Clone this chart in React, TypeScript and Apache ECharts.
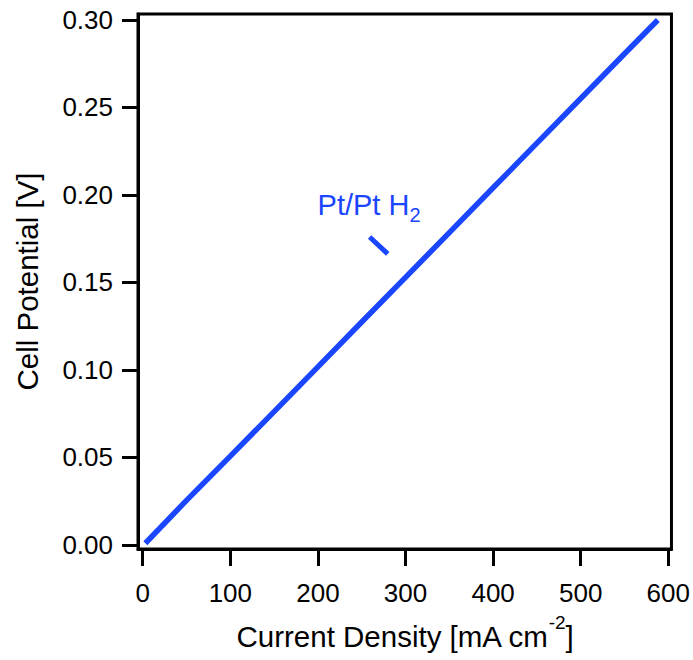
import React, { useEffect, useRef } from "react";
import * as echarts from "echarts";

const currentDensity = [3, 50, 100, 150, 200, 250, 300, 350, 400, 450, 500, 550, 588];
const cellPotential = [0.001, 0.0255, 0.0508, 0.0762, 0.1018, 0.1274, 0.1529, 0.1785, 0.2041, 0.2296, 0.2551, 0.2807, 0.3];
const xTicks = [0, 100, 200, 300, 400, 500, 600];
const yTicks = [0, 0.05, 0.1, 0.15, 0.2, 0.25, 0.3];
const seriesName = "Pt/Pt H2";
const annotationText = [199.6, 0.1943];
const annotationLeader = [[259, 0.176], [279.7, 0.1663]];

const FONT = 'Arial, "Liberation Sans", sans-serif';
const BLUE = "#1a46ff";

export default function App() {
  const ref = useRef<HTMLDivElement>(null);
  useEffect(() => {
    if (!ref.current) return;
    const chart = echarts.init(ref.current, null, { renderer: "svg" });
    const data = currentDensity.map((x, i) => [x, cellPotential[i]]);
    chart.setOption({
      animation: false,
      backgroundColor: "#fff",
      grid: {
        left: 138,
        right: 21,
        top: 14,
        bottom: 111,
        show: true,
        borderColor: "#000",
        borderWidth: 3,
        backgroundColor: "transparent",
      },
      xAxis: {
        type: "value",
        min: -5.4,
        max: 603.6,
        splitLine: { show: false },
        axisLine: { show: true, onZero: false, lineStyle: { color: "#000", width: 3 } },
        axisTick: { show: true, length: 17, customValues: xTicks, lineStyle: { color: "#000", width: 3 } },
        axisLabel: {
          customValues: xTicks,
          margin: 31,
          fontSize: 26,
          fontFamily: FONT,
          color: "#000",
          showMinLabel: true,
          showMaxLabel: true,
        },
        name: "{a|Current Density [mA cm}{sup|-2}{a|]}",
        nameLocation: "middle",
        nameGap: 64,
        nameTextStyle: {
          rich: {
            a: { fontSize: 29.5, fontFamily: FONT, color: "#000" },
            sup: { fontSize: 19, fontFamily: FONT, color: "#000", padding: [0, 0, 28, 0] },
          },
        },
      },
      yAxis: {
        type: "value",
        min: -0.00229,
        max: 0.3034,
        splitLine: { show: false },
        axisLine: { show: true, onZero: false, lineStyle: { color: "#000", width: 3 } },
        axisTick: { show: true, length: 16, customValues: yTicks, lineStyle: { color: "#000", width: 3 } },
        axisLabel: {
          customValues: yTicks,
          margin: 25,
          fontSize: 26,
          fontFamily: FONT,
          color: "#000",
          formatter: (v: number) => v.toFixed(2),
          showMinLabel: true,
          showMaxLabel: true,
        },
        name: "Cell Potential [V]",
        nameLocation: "middle",
        nameGap: 96,
        nameTextStyle: { fontSize: 29.5, fontFamily: FONT, color: "#000" },
      },
      series: [
        {
          name: seriesName,
          type: "line",
          data,
          showSymbol: false,
          symbol: "none",
          lineStyle: { color: BLUE, width: 5.5 },
          markLine: {
            silent: true,
            symbol: ["none", "none"],
            label: { show: false },
            lineStyle: { color: BLUE, width: 5, type: "solid" },
            data: [[{ coord: annotationLeader[0] }, { coord: annotationLeader[1] }]],
          },
          markPoint: {
            silent: true,
            symbol: "circle",
            symbolSize: 0,
            data: [{ coord: annotationText }],
            label: {
              show: true,
              position: "right",
              distance: 0,
              formatter: "{a|Pt/Pt H}{sub|2}",
              rich: {
                a: { fontSize: 29, fontFamily: FONT, color: BLUE },
                sub: { fontSize: 20, fontFamily: FONT, color: BLUE, padding: [20, 0, 0, 0] },
              },
            },
          },
        },
      ],
    });
    return () => chart.dispose();
  }, []);
  return (
    <div
      ref={ref}
      style={{ position: "absolute", left: 0, top: 0, width: 693, height: 660 }}
    />
  );
}
